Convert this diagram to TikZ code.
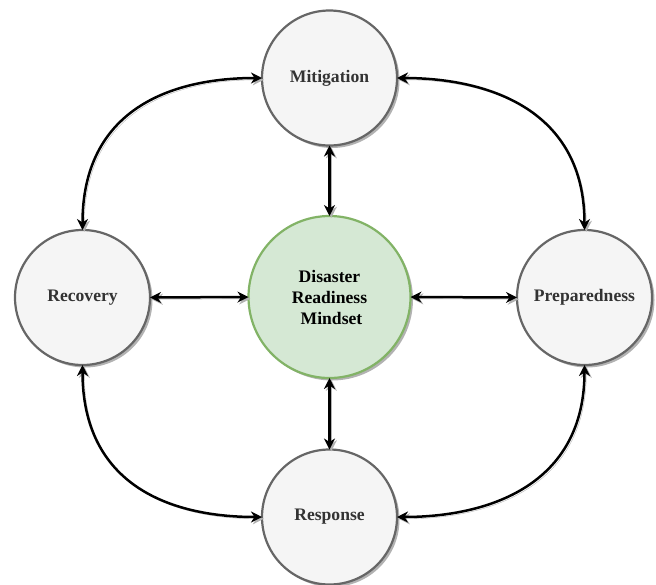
\documentclass[tikz,border=0pt]{standalone}
\usepackage{fontspec}
\setmainfont{Liberation Serif}
\usetikzlibrary{arrows.meta,shadows}
\definecolor{strokegray}{HTML}{666666}
\definecolor{fillgray}{HTML}{F5F5F5}
\definecolor{textgray}{HTML}{333333}
\definecolor{greenstroke}{HTML}{82B366}
\definecolor{greenfill}{HTML}{D5E8D4}
\tikzset{
  phase/.style={circle, draw=strokegray, fill=fillgray, line width=2.2pt,
    minimum size=135pt, inner sep=0pt, outer sep=0pt,
    font=\bfseries\fontsize{17.6}{21}\selectfont, text=textgray,
    drop shadow={shadow xshift=2.5pt, shadow yshift=-2.5pt, opacity=0.3, fill=black}},
  core/.style={phase, draw=greenstroke, fill=greenfill, minimum size=162pt,
    align=center, text=black},
  link/.style={line width=2.5pt, {Stealth[length=11pt, width=11pt, inset=3.5pt]}-{Stealth[length=11pt, width=11pt, inset=3.5pt]},
    preaction={draw=black!30, transform canvas={shift={(1.8pt,-1.8pt)}}}}
}
\begin{document}
\begin{tikzpicture}[x=1pt, y=-1pt]
\useasboundingbox (0,0) rectangle (656,584);
\node[phase] (mit)  at (329.5,78)    {Mitigation};
\node[phase] (rec)  at (82.5,297.5)  {Recovery};
\node[phase] (prep) at (584.5,297.5) {Preparedness};
\node[phase] (resp) at (329.5,517)   {Response};
\node[core]  (core) at (329.5,297)   {Disaster\\Readiness\\\hspace*{4pt}Mindset};

\draw[link] (mit.south) -- (core.north);
\draw[link] (core.south) -- (resp.north);
\draw[link] (rec.east) -- (core.west);
\draw[link] (core.east) -- (prep.west);

\draw[link] (rec.north) .. controls (82.5,110) and (170,78) .. (mit.west);
\draw[link] (mit.east) .. controls (489,78) and (584.5,110) .. (prep.north);
\draw[link] (rec.south) .. controls (82.5,485) and (170,517) .. (resp.west);
\draw[link] (resp.east) .. controls (489,517) and (584.5,485) .. (prep.south);
\end{tikzpicture}
\end{document}
